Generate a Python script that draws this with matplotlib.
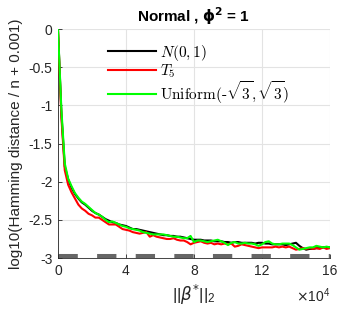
import matplotlib
matplotlib.use('Agg')
import matplotlib.pyplot as plt
import numpy as np
from matplotlib.font_manager import FontProperties
from matplotlib.ticker import FixedLocator, FuncFormatter

plt.rcParams['font.family'] = ['Liberation Sans', 'DejaVu Sans']
plt.rcParams['lines.scale_dashes'] = False

# ||beta*||_2 grid (x10^4 shown on the axis)
beta_norm = np.arange(0, 160001, 2000)

# log10(Hamming distance / n + 0.001)
normal_n01 = [
    0.00, -1.10, -1.80, -1.97, -2.08, -2.16, -2.22, -2.27, -2.30, -2.34,
    -2.38, -2.41, -2.43, -2.46, -2.49, -2.51, -2.53, -2.54, -2.56, -2.57,
    -2.58, -2.60, -2.62, -2.62, -2.63, -2.64, -2.65, -2.66, -2.67, -2.68,
    -2.69, -2.70, -2.70, -2.71, -2.71, -2.72, -2.72, -2.73, -2.74, -2.75,
    -2.76, -2.76, -2.76, -2.77, -2.77, -2.77, -2.78, -2.78, -2.78, -2.79,
    -2.79, -2.80, -2.79, -2.79, -2.80, -2.80, -2.80, -2.80, -2.81, -2.80,
    -2.80, -2.81, -2.81, -2.82, -2.82, -2.82, -2.82, -2.83, -2.82, -2.81,
    -2.80, -2.84, -2.87, -2.89, -2.88, -2.88, -2.87, -2.87, -2.86, -2.86,
    -2.86]
t5 = [
    0.00, -1.15, -1.85, -2.04, -2.14, -2.22, -2.30, -2.35, -2.38, -2.42,
    -2.44, -2.47, -2.47, -2.50, -2.53, -2.56, -2.56, -2.56, -2.59, -2.62,
    -2.63, -2.64, -2.66, -2.67, -2.68, -2.67, -2.66, -2.72, -2.70, -2.72,
    -2.73, -2.74, -2.75, -2.75, -2.74, -2.76, -2.77, -2.77, -2.79, -2.82,
    -2.80, -2.79, -2.78, -2.80, -2.81, -2.80, -2.82, -2.81, -2.82, -2.81,
    -2.82, -2.81, -2.85, -2.84, -2.82, -2.83, -2.84, -2.85, -2.86, -2.87,
    -2.86, -2.86, -2.86, -2.86, -2.85, -2.86, -2.85, -2.86, -2.85, -2.87,
    -2.89, -2.88, -2.87, -2.88, -2.87, -2.88, -2.87, -2.88, -2.86, -2.88,
    -2.87]
uniform = [
    0.00, -1.05, -1.76, -1.96, -2.06, -2.15, -2.21, -2.26, -2.29, -2.33,
    -2.37, -2.41, -2.43, -2.46, -2.50, -2.53, -2.52, -2.54, -2.56, -2.58,
    -2.59, -2.61, -2.62, -2.63, -2.64, -2.66, -2.67, -2.68, -2.69, -2.69,
    -2.69, -2.69, -2.70, -2.71, -2.72, -2.72, -2.73, -2.74, -2.74, -2.71,
    -2.79, -2.77, -2.77, -2.78, -2.79, -2.78, -2.77, -2.76, -2.78, -2.80,
    -2.83, -2.80, -2.79, -2.81, -2.81, -2.80, -2.81, -2.81, -2.82, -2.84,
    -2.82, -2.79, -2.78, -2.81, -2.82, -2.82, -2.81, -2.81, -2.81, -2.83,
    -2.86, -2.89, -2.88, -2.87, -2.86, -2.86, -2.84, -2.85, -2.86, -2.85,
    -2.86]

series_labels = [r'$N(0,1)$', r'$T_5$',
                 r'$\mathrm{Uniform}(\text{-}\sqrt{3},\sqrt{3})$']
series_colors = ['black', 'red', '#00ff00']

x_ticks = [0, 40000, 80000, 120000, 160000]
y_ticks = [-3, -2.5, -2, -1.5, -1, -0.5, 0]
floor_level = -3

axis_col = '#262626'

fig = plt.figure(figsize=(3.43, 3.19), dpi=100)
ax = fig.add_axes([0.169, 0.191, 0.793, 0.718])

# floor reference (dashed, thick, clipped by the axes)
ax.plot([beta_norm[0], beta_norm[-1]], [floor_level, floor_level],
        color='#666666', linewidth=6.5, linestyle=(0, (13.9, 13.9)),
        solid_capstyle='butt', dash_capstyle='butt', zorder=2)

handles = []
for ys, lab, col in zip([normal_n01, t5, uniform], series_labels, series_colors):
    h, = ax.plot(beta_norm, ys, color=col, linewidth=1.5, label=lab, zorder=3)
    handles.append(h)

ax.set_xlim(0, 160000)
ax.set_ylim(-3, 0)
ax.xaxis.set_major_locator(FixedLocator(x_ticks))
ax.yaxis.set_major_locator(FixedLocator(y_ticks))
ax.xaxis.set_major_formatter(FuncFormatter(lambda v, p: f'{v / 1e4:g}'))
ax.yaxis.set_major_formatter(FuncFormatter(lambda v, p: f'{v:g}'))

ax.grid(True, color='#e3e3e3', linewidth=0.8)
ax.set_axisbelow(True)
for side in ['top', 'right']:
    ax.spines[side].set_visible(False)
for side in ['left', 'bottom']:
    ax.spines[side].set_color(axis_col)
    ax.spines[side].set_linewidth(0.6)
ax.tick_params(direction='in', length=3, width=0.6, colors=axis_col,
               labelsize=10, pad=4)

ax.set_title(r'Normal , $\mathbf{\phi}^\mathbf{2}$ = 1', fontsize=11,
             fontweight='bold', pad=5, math_fontfamily='dejavusans')
ax.set_ylabel('log10(Hamming distance / n + 0.001)', fontsize=11,
              color=axis_col, labelpad=4)
ax.set_xlabel(r'$\mathregular{||}\beta^{*}\mathregular{||_2}$', fontsize=12,
              color=axis_col, labelpad=4, math_fontfamily='dejavusans')
ax.text(1.0, -0.165, r'$\times\mathregular{10^4}$', transform=ax.transAxes,
        ha='right', va='center', fontsize=10, color=axis_col)

leg = ax.legend(handles=handles, loc='upper left', bbox_to_anchor=(0.185, 0.94),
                frameon=False, handlelength=3.1, handletextpad=0.3,
                labelspacing=-0.05, borderaxespad=0, borderpad=0,
                prop=FontProperties(size=11, math_fontfamily='cm'))

fig.savefig('out.png', dpi=100)
